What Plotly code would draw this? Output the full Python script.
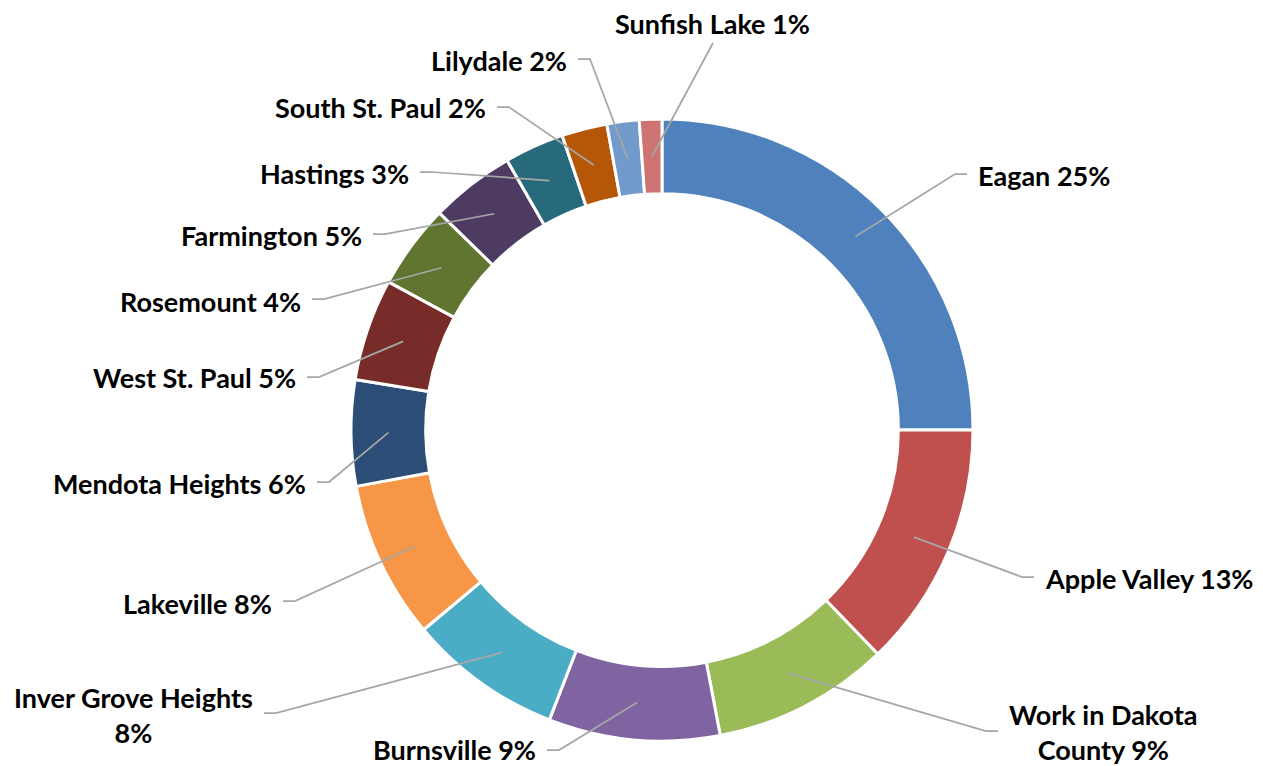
import math
import plotly.graph_objects as go

# ---- data ----
cities = ["Eagan", "Apple Valley", "Work in Dakota<br>County", "Burnsville",
          "Inver Grove Heights<br>", "Lakeville", "Mendota Heights", "West St. Paul",
          "Rosemount", "Farmington", "Hastings", "South St. Paul", "Lilydale", "Sunfish Lake"]
values = [25.0, 12.8, 9.2, 8.9, 8.0, 8.2, 5.5, 5.3, 4.4, 4.4, 3.1, 2.36, 1.67, 1.17]
pct_labels = [25, 13, 9, 9, 8, 8, 6, 5, 4, 5, 3, 2, 2, 1]
colors = ["#4F81BD", "#C0504D", "#9BBB59", "#8064A2", "#4BACC6", "#F79646", "#2C4D75",
          "#772C2A", "#5F7530", "#4D3B62", "#276A7C", "#B65708", "#729ACA", "#CD7371"]

# ---- layout constants (screen pixels) ----
W, H = 1263, 766
OFF = 8  # page body margin offset
CX, CY, R = 662, 430, 311
HOLE = 0.76
R_MID = R * (1 + HOLE) / 2

# label anchor positions: (x, y, side) side: 'L' text to left of line end, 'R' text right, 'T' text above
label_pos = [
    (977, 175, "R"), (1044, 578, "R"), (1008, 732, "R"), (537, 749, "L"),
    (254, 715, "L"), (273, 603, "L"), (307, 483, "L"), (297, 377, "L"),
    (302, 301, "L"), (363, 235, "L"), (410, 173, "L"), (487, 108, "L"),
    (568, 60, "L"), (712, 23, "T"),
]
line_y = [174, 577, 731, 750, 713, 601, 482, 377, 299, 234, 172, 107, 59, 43]


def px(x):
    return (x - OFF) / W


def py(y):
    return 1 - (y - OFF) / H


fig = go.Figure()
fig.add_trace(go.Pie(
    values=values, labels=[c.replace("<br>", " ").strip() for c in cities],
    sort=False, direction="clockwise", rotation=0, hole=HOLE,
    marker=dict(colors=colors, line=dict(color="white", width=3)),
    textinfo="none", hoverinfo="label+percent", showlegend=False,
    domain=dict(x=[px(CX - R), px(CX + R)], y=[py(CY + R), py(CY - R)]),
))

total = sum(values)
cum = 0.0
shapes = []
annotations = []
for i, v in enumerate(values):
    mid = (cum + v / 2) / total * 2 * math.pi
    cum += v
    sx = CX + R_MID * math.sin(mid)
    sy = CY - R_MID * math.cos(mid)
    lx, ly, side = label_pos[i]
    name = cities[i]
    if name.endswith("<br>"):
        text = f"{name}{pct_labels[i]}%"
    else:
        text = f"{name} {pct_labels[i]}%"
    if side == "L":
        ex, ex2 = lx + 10, lx + 22
        path = f"M {px(ex)} {py(line_y[i])} L {px(ex2)} {py(line_y[i])} L {px(sx)} {py(sy)}"
        xa = "right"
    elif side == "R":
        ex, ex2 = lx - 10, lx - 22
        path = f"M {px(ex)} {py(line_y[i])} L {px(ex2)} {py(line_y[i])} L {px(sx)} {py(sy)}"
        xa = "left"
    else:
        path = f"M {px(lx + 1)} {py(line_y[i])} L {px(sx)} {py(sy)}"
        xa = "center"
    shapes.append(dict(type="path", path=path, xref="paper", yref="paper",
                       line=dict(color="#A6A6A6", width=1.75), layer="above"))
    annotations.append(dict(x=px(lx), y=py(ly), xref="paper", yref="paper",
                            text=text, showarrow=False, xanchor=xa, yanchor="middle",
                            align="center", borderpad=0,
                            font=dict(family="Lato", size=27, color="black", weight="bold")))

fig.update_layout(
    width=W, height=H, margin=dict(l=0, r=0, t=0, b=0),
    paper_bgcolor="white", plot_bgcolor="white",
    shapes=shapes, annotations=annotations,
)
fig.write_html("out.html")
